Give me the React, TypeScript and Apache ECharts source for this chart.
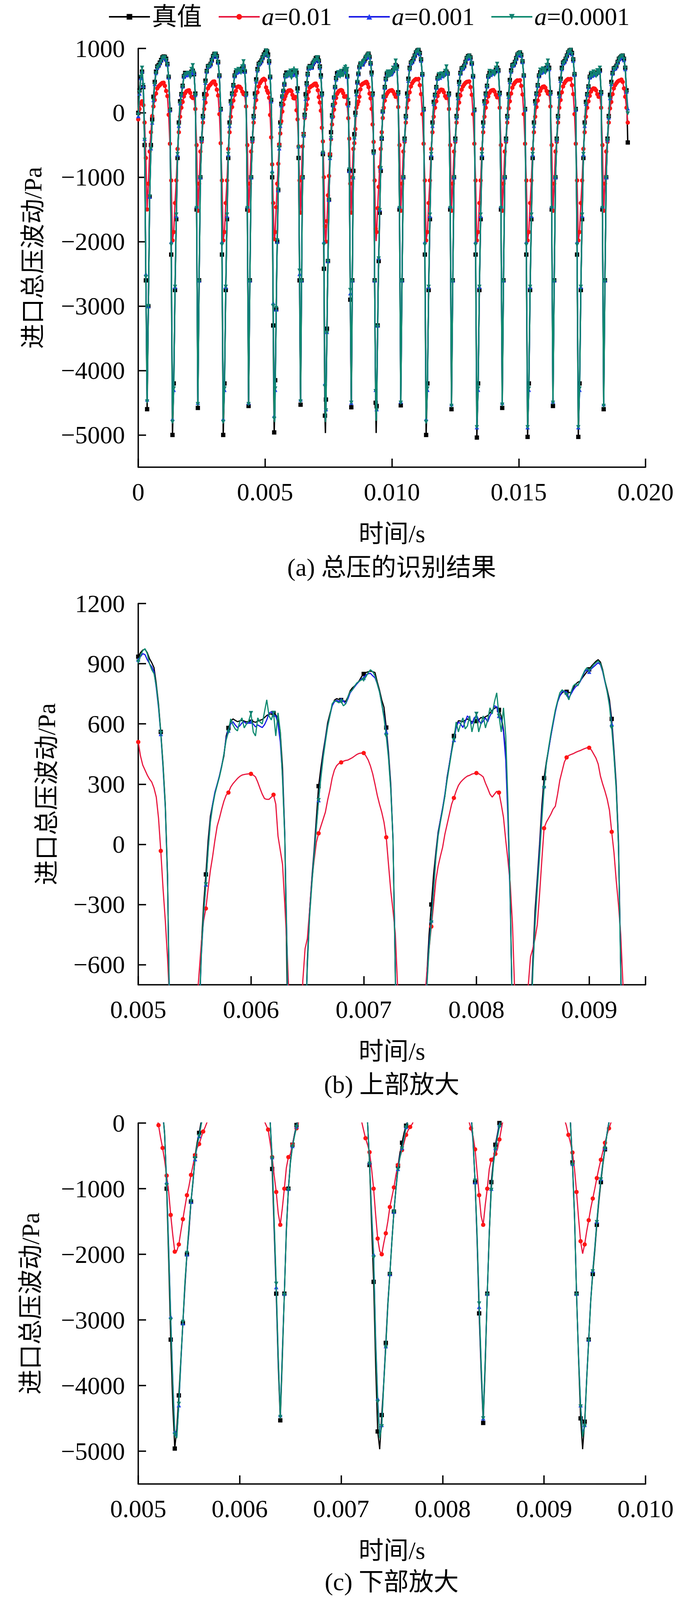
import React, { useEffect, useRef } from "react";
import * as echarts from "echarts";

// ---------------- data ----------------
const SERIES_NAMES = ["真值", "a=0.01", "a=0.001", "a=0.0001"];
const CAPTIONS = ["(a) 总压的识别结果", "(b) 上部放大", "(c) 下部放大"];
const X_TICKS_A = [0, 0.005, 0.01, 0.015, 0.02];
const Y_TICKS_A = [-5000, -4000, -3000, -2000, -1000, 0, 1000];
const X_LABELS_B = [0.005, 0.006, 0.007, 0.008, 0.009];
const X_TICKS_B = [0.005, 0.006, 0.007, 0.008, 0.009, 0.0095];
const Y_TICKS_B = [-600, -300, 0, 300, 600, 900, 1200];
const X_TICKS_C = [0.005, 0.006, 0.007, 0.008, 0.009, 0.01];
const Y_TICKS_C = [-5000, -4000, -3000, -2000, -1000, 0];

// time sampling: [start (s), step (s), count]
const TIME_SEGMENTS: [number, number, number][] = [
  [0, 0.00005, 100],
  [0.005, 0.00002, 250],
  [0.01, 0.00005, 187],
];

// 真值 (truth)
const TRUTH = [
  // 0-1 ms
  0, 350, 560, 640, 400, -500, -2600, -4600, -3000, -1300, -500, -100, 250, 480, 640, 720, 740, 780, 820, 860,
  // 1-2 ms
  875, 870, 840, 760, 560, 50, -2200, -5000, -4200, -2750, -1650, -700, -150, 180, 290, 420, 570, 620, 615, 618,
  // 2-3 ms
  612, 618, 640, 654, 600, 300, -1500, -4580, -2600, -1000, -400, -50, 290, 500, 650, 725, 730, 760, 820, 880,
  // 3-4 ms
  915, 918, 880, 790, 580, 60, -2200, -5000, -4200, -2750, -1650, -700, -150, 180, 300, 430, 580, 630, 640, 645,
  // 4-5 ms
  650, 660, 690, 720, 640, 300, -1500, -4550, -2600, -1000, -400, -50, 300, 520, 680, 760, 780, 810, 860, 905,
  // 5-6 ms (20 us)
  935, 955, 968, 972, 955, 925, 905, 880, 800, 700,
  560, 400, 200, -150, -1000, -2100, -3300, -4300, -4960, -4650,
  -4150, -3600, -3050, -2500, -2000, -1650, -1200, -900, -500, -300,
  -150, 20, 140, 200, 255, 295, 340, 390, 440, 540,
  580, 612, 625, 618, 611, 615, 618, 614, 610, 612,
  // 6-7 ms
  611, 612, 608, 614, 618, 622, 632, 642, 648, 650,
  654, 645, 625, 560, 380, 50, -700, -1650, -2600, -3700,
  -4530, -3600, -2600, -1650, -1000, -580, -330, -170, -30, 130,
  290, 380, 460, 530, 605, 650, 690, 718, 726, 722,
  719, 715, 712, 735, 765, 780, 790, 800, 815, 835,
  // 7-8 ms
  849, 856, 860, 863, 860, 856, 810, 769, 720, 683,
  582, 460, 300, 20, -640, -1560, -2420, -3700, -4700, -4970,
  -4450, -3950, -3350, -2750, -2300, -1800, -1350, -1000, -650, -450,
  -300, -150, -40, 60, 120, 180, 240, 335, 400, 470,
  540, 590, 616, 614, 611, 618, 625, 618, 611, 612,
  // 8-9 ms
  614, 620, 632, 628, 636, 641, 655, 668, 678, 683,
  670, 640, 570, 450, 150, -250, -900, -1800, -2900, -3800,
  -4570, -3700, -2600, -1700, -900, -580, -330, -170, 0, 190,
  330, 410, 475, 540, 605, 665, 710, 740, 755, 762,
  760, 757, 755, 780, 798, 808, 813, 830, 845, 860,
  // 9-10 ms
  872, 888, 900, 912, 920, 908, 870, 815, 770, 720,
  625, 470, 300, 20, -600, -1400, -2600, -3600, -4500, -4970,
  -4550, -3900, -3300, -2700, -2300, -1950, -1550, -1200, -900, -630,
  -400, -170, 20, 160, 250, 330, 400, 460, 530, 580,
  605, 612, 620, 615, 618, 625, 622, 618, 612, 610,
  // 10-11 ms (50 us)
  640, 660, 700, 740, 720, 320, -1500, -4540, -2600, -1000, -400, -50, 300, 530, 700, 780, 800, 840, 890, 940,
  // 11-12 ms
  965, 978, 930, 830, 600, 60, -2200, -5000, -4200, -2750, -1650, -700, -150, 170, 280, 400, 540, 580, 575, 585,
  // 12-13 ms
  590, 600, 620, 640, 610, 300, -1500, -4600, -2600, -1000, -400, -50, 280, 480, 620, 690, 700, 730, 790, 850,
  // 13-14 ms
  880, 890, 860, 770, 570, 50, -2200, -5040, -4200, -2750, -1650, -700, -150, 180, 300, 420, 570, 620, 615, 625,
  // 14-15 ms
  625, 640, 670, 700, 660, 310, -1500, -4580, -2600, -1000, -400, -50, 290, 510, 660, 740, 750, 790, 850, 905,
  // 15-16 ms
  925, 939, 900, 800, 580, 60, -2200, -5030, -4200, -2750, -1650, -700, -150, 180, 300, 430, 580, 630, 640, 650,
  // 16-17 ms
  655, 670, 700, 740, 700, 320, -1500, -4550, -2600, -1000, -400, -50, 300, 530, 700, 780, 800, 840, 890, 940,
  // 17-18 ms
  965, 978, 930, 830, 600, 60, -2200, -5030, -4200, -2750, -1650, -700, -150, 170, 290, 410, 560, 600, 600, 605,
  // 18-19 ms
  600, 610, 625, 650, 660, 320, -1500, -4600, -2600, -1000, -400, -50, 280, 480, 620, 690, 700, 730, 790, 840,
  // 19-19.3 ms
  860, 880, 890, 840, 700, 350, -460,
];

// a = 0.01
const A_001 = [
  -100, 60, 150, 180, 120, -150, -700, -1500, -1100, -600, -300, -50, 100, 200, 300, 380, 410, 430, 450, 465,
  468, 420, 340, 260, -30, -480, -1050, -1980, -1850, -1400, -1050, -560, -300, -60, 80, 170, 255, 305, 335, 345,
  351, 310, 250, 230, 240, 60, -500, -1520, -1100, -600, -450, -150, 60, 160, 280, 380, 420, 440, 465, 485,
  488, 440, 360, 270, -20, -470, -1050, -1980, -1850, -1400, -1050, -560, -300, -60, 90, 190, 280, 340, 400, 410,
  405, 380, 330, 290, 280, 100, -500, -1520, -1100, -600, -450, -150, 80, 200, 320, 410, 460, 490, 515, 528,
  // 5-6 ms
  510, 440, 395, 370, 345, 325, 310, 280, 235, 130,
  -33, -220, -380, -570, -800, -1050, -1400, -1700, -1960, -1950,
  -1850, -1650, -1465, -1280, -1100, -960, -790, -640, -490, -380,
  -320, -220, -130, -60, 20, 90, 130, 175, 215, 245,
  258, 285, 302, 315, 328, 338, 345, 348, 350, 351,
  // 6-7 ms
  351, 345, 336, 310, 279, 250, 228, 224, 224, 235,
  247, 200, 40, -30, -100, -300, -520, -800, -1050, -1380,
  -1550, -1300, -1000, -680, -520, -470, -330, -180, -80, 10,
  55, 90, 125, 160, 220, 270, 330, 370, 392, 403,
  408, 414, 418, 420, 426, 432, 440, 448, 453, 455,
  // 7-8 ms
  455, 440, 420, 390, 351, 300, 245, 200, 160, 110,
  35, -100, -231, -330, -443, -700, -1000, -1400, -1760, -1950,
  -2000, -1830, -1680, -1500, -1280, -1130, -980, -790, -640, -520,
  -410, -300, -180, -110, -60, -15, 50, 100, 150, 200,
  231, 265, 293, 310, 322, 332, 340, 344, 350, 353,
  // 8-9 ms
  355, 352, 345, 336, 305, 279, 250, 235, 250, 264,
  258, 200, 134, 20, -82, -200, -400, -750, -1100, -1420,
  -1550, -1250, -1000, -700, -560, -520, -470, -400, -250, -80,
  80, 110, 130, 150, 175, 190, 250, 320, 365, 410,
  433, 443, 448, 452, 458, 463, 467, 472, 477, 481,
  // 9-10 ms
  481, 470, 450, 430, 400, 340, 300, 265, 225, 170,
  62, -40, -180, -300, -450, -700, -1050, -1450, -1800, -1990,
  -1850, -1650, -1480, -1300, -1150, -1000, -840, -690, -560, -430,
  -300, -180, -80, 10, 80, 140, 190, 230, 256, 270,
  290, 305, 318, 328, 335, 340, 345, 347, 348, 350,
  // 10-19.3 ms
  352, 330, 290, 250, 255, 90, -500, -1520, -1100, -600, -450, -150, 80, 200, 320, 410, 460, 490, 510, 525,
  520, 527, 430, 290, -20, -480, -1050, -1980, -1850, -1400, -1050, -560, -300, -60, 80, 180, 260, 320, 350, 361,
  355, 320, 260, 230, 240, 60, -500, -1520, -1100, -600, -450, -150, 60, 160, 270, 360, 410, 440, 465, 480,
  485, 488, 400, 280, -20, -480, -1050, -1980, -1850, -1400, -1050, -560, -300, -60, 80, 170, 255, 310, 340, 351,
  355, 330, 280, 240, 250, 80, -500, -1520, -1100, -600, -450, -150, 70, 180, 300, 390, 440, 470, 490, 505,
  500, 508, 420, 285, -20, -480, -1050, -1980, -1850, -1400, -1050, -560, -300, -60, 90, 190, 280, 340, 385, 405,
  410, 390, 340, 300, 290, 100, -500, -1520, -1100, -600, -450, -150, 80, 200, 320, 410, 460, 490, 510, 525,
  520, 527, 430, 290, -20, -480, -1050, -1980, -1850, -1400, -1050, -560, -300, -60, 80, 180, 265, 330, 365, 380,
  375, 350, 290, 250, 255, 80, -500, -1520, -1100, -600, -450, -150, 70, 170, 290, 380, 430, 460, 485, 500,
  505, 517, 480, 380, 250, 80, -150,
];

// a = 0.001
const A_0001 = [
  -50, 300, 540, 650, 420, -400, -2500, -4450, -3000, -1300, -550, -150, 200, 450, 620, 700, 730, 770, 810, 850,
  860, 855, 825, 750, 550, 40, -2000, -4750, -4300, -2700, -1600, -650, -200, 150, 280, 410, 560, 610, 585, 605,
  605, 590, 620, 650, 620, 280, -1450, -4500, -2600, -1000, -420, -70, 230, 470, 640, 715, 725, 750, 810, 870,
  900, 905, 870, 780, 570, 50, -2000, -4750, -4300, -2700, -1600, -650, -200, 150, 290, 420, 570, 620, 630, 650,
  640, 650, 700, 760, 640, 280, -1450, -4500, -2600, -1000, -420, -70, 250, 490, 660, 750, 770, 800, 850, 895,
  // 5-6 ms
  920, 935, 950, 945, 920, 900, 885, 860, 780, 680,
  550, 380, 180, -180, -900, -1900, -2950, -3900, -4700, -4780,
  -4300, -3650, -3050, -2450, -2000, -1600, -1200, -880, -550, -350,
  -200, -20, 120, 200, 260, 300, 340, 390, 450, 530,
  567, 600, 611, 595, 582, 590, 605, 611, 600, 605,
  // 6-7 ms
  611, 600, 585, 595, 588, 582, 596, 620, 654, 660,
  645, 640, 600, 510, 340, 40, -520, -1550, -2500, -3600,
  -4450, -3500, -2600, -1600, -1000, -600, -350, -190, -50, 90,
  220, 340, 440, 520, 590, 640, 690, 710, 718, 712,
  720, 716, 700, 725, 755, 770, 785, 800, 812, 825,
  // 7-8 ms
  830, 845, 850, 852, 840, 830, 800, 760, 700, 640,
  560, 440, 280, 30, -600, -1350, -2000, -3300, -4200, -4780,
  -4600, -3950, -3400, -2780, -2300, -1800, -1350, -1000, -700, -500,
  -380, -220, -60, 50, 120, 180, 250, 330, 400, 470,
  520, 580, 610, 600, 582, 611, 640, 625, 600, 630,
  // 8-9 ms
  640, 620, 600, 615, 630, 610, 640, 660, 690, 685,
  640, 620, 560, 420, 120, -300, -900, -1750, -2800, -3700,
  -4500, -3600, -2600, -1650, -1000, -620, -380, -200, -30, 150,
  290, 400, 470, 540, 600, 660, 710, 740, 760, 765,
  755, 730, 750, 770, 785, 795, 810, 835, 860, 870,
  // 9-10 ms
  860, 875, 885, 895, 905, 895, 860, 810, 760, 700,
  600, 450, 280, 0, -620, -1420, -2600, -3550, -4300, -4750,
  -4600, -3900, -3300, -2700, -2250, -1900, -1500, -1150, -850, -600,
  -380, -160, 20, 160, 250, 320, 390, 450, 520, 570,
  600, 590, 615, 600, 590, 610, 625, 605, 600, 615,
  // 10-19.3 ms
  620, 650, 720, 770, 690, 300, -1450, -4480, -2600, -1000, -420, -70, 260, 500, 680, 770, 790, 830, 880, 930,
  950, 960, 910, 810, 590, 50, -2000, -4750, -4300, -2700, -1600, -650, -200, 140, 270, 390, 530, 560, 545, 570,
  580, 590, 610, 650, 620, 280, -1450, -4520, -2600, -1000, -420, -70, 230, 450, 610, 680, 690, 720, 780, 840,
  860, 875, 845, 760, 560, 40, -2000, -4880, -4300, -2700, -1600, -650, -200, 150, 280, 410, 560, 610, 590, 610,
  610, 630, 680, 720, 650, 290, -1450, -4500, -2600, -1000, -420, -70, 250, 480, 640, 730, 740, 780, 840, 895,
  910, 925, 885, 790, 575, 50, -2000, -4880, -4300, -2700, -1600, -650, -200, 150, 290, 420, 570, 620, 625, 650,
  640, 660, 720, 770, 680, 300, -1450, -4480, -2600, -1000, -420, -70, 260, 500, 680, 770, 790, 830, 880, 930,
  950, 960, 910, 810, 590, 50, -2000, -4880, -4300, -2700, -1600, -650, -200, 140, 280, 400, 550, 590, 575, 595,
  590, 600, 630, 660, 650, 300, -1450, -4520, -2600, -1000, -420, -70, 230, 450, 610, 680, 690, 720, 780, 830,
  850, 870, 875, 820, 680, 330, 70,
];

// a = 0.0001
const A_00001 = [
  -30, 320, 560, 700, 430, -420, -2550, -4480, -3000, -1300, -560, -160, 190, 440, 610, 700, 720, 760, 800, 845,
  865, 860, 820, 745, 555, 30, -2050, -4800, -4280, -2700, -1580, -640, -200, 140, 270, 400, 560, 600, 600, 620,
  620, 550, 680, 740, 620, 270, -1480, -4520, -2620, -1010, -430, -80, 220, 460, 630, 715, 720, 750, 810, 870,
  905, 920, 870, 780, 570, 40, -2050, -4800, -4280, -2700, -1580, -640, -200, 140, 280, 410, 570, 660, 630, 680,
  660, 620, 720, 800, 650, 270, -1480, -4520, -2620, -1010, -430, -80, 240, 480, 650, 745, 760, 800, 850, 890,
  // 5-6 ms
  910, 940, 965, 975, 950, 900, 870, 850, 790, 690,
  555, 390, 190, -170, -950, -1950, -3000, -3950, -4750, -4800,
  -4280, -3620, -3030, -2430, -1980, -1580, -1190, -870, -540, -340,
  -200, -30, 110, 190, 250, 295, 335, 385, 450, 520,
  560, 625, 595, 575, 565, 610, 630, 580, 600, 615,
  // 6-7 ms
  654, 560, 540, 630, 610, 600, 660, 720, 640, 620,
  655, 540, 655, 560, 320, 30, -540, -1500, -2450, -3550,
  -4480, -3520, -2620, -1620, -1020, -610, -360, -200, -60, 80,
  220, 330, 430, 510, 585, 640, 700, 715, 712, 705,
  712, 690, 700, 735, 760, 770, 790, 805, 812, 820,
  // 7-8 ms
  820, 835, 855, 870, 860, 840, 800, 760, 700, 630,
  540, 430, 270, 20, -620, -1400, -2050, -3350, -4250, -4800,
  -4620, -3970, -3420, -2790, -2310, -1810, -1360, -1010, -710, -520,
  -390, -230, -70, 40, 110, 170, 240, 320, 390, 460,
  520, 610, 560, 600, 630, 575, 590, 640, 560, 610,
  // 8-9 ms
  650, 560, 600, 640, 580, 620, 680, 650, 710, 755,
  640, 560, 680, 540, 200, -280, -880, -1700, -2750, -3650,
  -4500, -3620, -2620, -1670, -1020, -640, -400, -220, -60, 120,
  280, 400, 480, 550, 610, 670, 715, 755, 770, 760,
  745, 720, 760, 790, 800, 790, 815, 840, 865, 880,
  // 9-10 ms
  865, 880, 895, 905, 915, 900, 865, 815, 760, 690,
  580, 440, 270, -10, -640, -1440, -2620, -3570, -4320, -4780,
  -4620, -3920, -3320, -2720, -2260, -1910, -1510, -1160, -860, -610,
  -390, -170, 10, 150, 240, 310, 380, 440, 510, 560,
  620, 560, 640, 600, 570, 650, 610, 560, 640, 600,
  // 10-19.3 ms
  610, 700, 660, 810, 680, 290, -1480, -4500, -2620, -1010, -430, -80, 250, 490, 670, 765, 785, 830, 880, 935,
  955, 975, 915, 815, 590, 40, -2050, -4800, -4280, -2700, -1580, -640, -200, 130, 260, 380, 530, 600, 540, 610,
  600, 560, 650, 720, 600, 270, -1480, -4550, -2620, -1010, -430, -80, 220, 440, 600, 680, 685, 720, 780, 840,
  865, 885, 850, 765, 565, 30, -2050, -4880, -4280, -2700, -1580, -640, -200, 140, 270, 400, 560, 650, 580, 640,
  640, 590, 700, 760, 640, 280, -1480, -4530, -2620, -1010, -430, -80, 240, 470, 630, 725, 735, 780, 840, 900,
  915, 935, 890, 790, 570, 40, -2050, -4880, -4280, -2700, -1580, -640, -200, 140, 280, 410, 570, 670, 620, 690,
  670, 620, 740, 810, 670, 290, -1480, -4500, -2620, -1010, -430, -80, 250, 490, 670, 765, 785, 830, 880, 935,
  955, 975, 915, 815, 590, 40, -2050, -4880, -4280, -2700, -1580, -640, -200, 130, 270, 390, 550, 620, 570, 640,
  610, 570, 660, 620, 700, 300, -1480, -4550, -2620, -1010, -430, -80, 220, 440, 600, 680, 685, 720, 780, 830,
  855, 880, 885, 830, 690, 320, -10,
];

// ---------------- styling ----------------
const FONT = '"Liberation Serif", "Times New Roman", "Noto Sans CJK SC", serif';
const FS = 64;
const REF_W = 1772;
const REF_H = 4231;

const SERIES_STYLE = [
  { line: "#000000", mark: "#000000", symbol: "rect", rotate: 0 },
  { line: "#e8173f", mark: "#ff1414", symbol: "circle", rotate: 0 },
  { line: "#1a1ae6", mark: "#1f3cf0", symbol: "triangle", rotate: 0 },
  { line: "#0f8a70", mark: "#118070", symbol: "triangle", rotate: 180 },
];

// layout in reference pixels (vertical values are scaled to the visible height)
const GRIDS = [
  { left: 354, top: 128, width: 1299, height: 1107 },
  { left: 354, top: 1596, width: 1299, height: 1008 },
  { left: 354, top: 2970, width: 1299, height: 954 },
];
const CAPTION_Y = [1500, 2867, 4182];
const Y_NAME_GAP = [238, 203, 244];
const LINE_W = [3.5, 3, 3];

const fmtY = (v: number) => (v < 0 ? "\u2212" + Math.abs(v) : String(v));
const fmtX = (v: number) => (Math.abs(v) < 1e-12 ? "0" : v.toFixed(3));

function buildTimes(): { t: number; fine: boolean }[] {
  const out: { t: number; fine: boolean }[] = [];
  for (const [start, step, n] of TIME_SEGMENTS) {
    for (let i = 0; i < n; i++) out.push({ t: Math.round((start + i * step) * 1e6) / 1e6, fine: step < 0.00003 });
  }
  return out;
}

// which samples carry a marker, per panel
function hasMarker(panel: number, us: number, fine: boolean): boolean {
  if (panel === 0) return fine ? us % 40 === 0 : true;
  if (panel === 1) return us % 200 === 0;
  return us % 40 === 0;
}

function xAxis(gridIndex: number, min: number, max: number, ticks: number[], labels: number[], ky: number) {
  return {
    type: "value",
    gridIndex,
    min,
    max,
    name: "时间/s",
    nameLocation: "middle",
    nameGap: Math.round(143 * ky),
    nameTextStyle: { color: "#000", fontSize: FS, fontFamily: FONT },
    axisLine: { show: true, onZero: false, lineStyle: { color: "#000", width: 3.5 } },
    axisTick: { show: true, inside: true, length: 22, customValues: ticks, lineStyle: { color: "#000", width: 3.5 } },
    axisLabel: { show: true, customValues: labels, margin: Math.round(32 * ky), color: "#000", fontSize: FS, fontFamily: FONT, formatter: fmtX },
    splitLine: { show: false },
  };
}

function yAxis(gridIndex: number, min: number, max: number, ticks: number[]) {
  return {
    type: "value",
    gridIndex,
    min,
    max,
    name: "进口总压波动/Pa",
    nameLocation: "middle",
    nameGap: Y_NAME_GAP[gridIndex],
    nameRotate: 90,
    nameTextStyle: { color: "#000", fontSize: FS, fontFamily: FONT },
    axisLine: { show: true, onZero: false, lineStyle: { color: "#000", width: 3.5 } },
    axisTick: { show: true, inside: true, length: 20, customValues: ticks, lineStyle: { color: "#000", width: 3.5 } },
    axisLabel: { show: true, customValues: ticks, margin: 34, color: "#000", fontSize: FS, fontFamily: FONT, formatter: fmtY },
    splitLine: { show: false },
  };
}

function buildOption(ky: number) {
  const times = buildTimes();
  const values = [TRUTH, A_001, A_0001, A_00001];
  const series: any[] = [];
  for (let g = 0; g < 3; g++) {
    for (let s = 0; s < 4; s++) {
      const st = SERIES_STYLE[s];
      const vals = values[s];
      const data: any[] = [];
      times.forEach(({ t, fine }, i) => {
        if (vals[i] === undefined) return;
        const us = Math.round(t * 1e6);
        const item: any = { value: [t, vals[i]] };
        if (!hasMarker(g, us, fine)) item.symbol = "none";
        data.push(item);
      });
      series.push({
        type: "line",
        name: SERIES_NAMES[s],
        xAxisIndex: g,
        yAxisIndex: g,
        data,
        symbol: st.symbol,
        symbolSize: 11,
        symbolRotate: st.rotate,
        showSymbol: true,
        clip: true,
        silent: true,
        lineStyle: { color: st.line, width: LINE_W[g] },
        itemStyle: { color: st.mark },
        z: 2 + s,
      });
    }
  }

  return {
    animation: false,
    backgroundColor: "#ffffff",
    textStyle: { fontFamily: FONT },
    legend: {
      data: SERIES_NAMES,
      left: 272,
      top: Math.round(6 * ky),
      itemWidth: 105,
      itemHeight: 18,
      itemGap: 41,
      selectedMode: false,
      lineStyle: { width: 4 },
      formatter: (name: string) => (name.startsWith("a=") ? "{i|a}" + name.slice(1) : name),
      textStyle: {
        color: "#000",
        fontSize: FS,
        fontFamily: FONT,
        rich: { i: { fontStyle: "italic", fontSize: FS, fontFamily: FONT, color: "#000" } },
      },
    },
    grid: GRIDS.map((g) => ({
      left: g.left,
      width: g.width,
      top: Math.round(g.top * ky),
      height: Math.round(g.height * ky),
      containLabel: false,
    })),
    xAxis: [
      xAxis(0, 0, 0.02, X_TICKS_A, X_TICKS_A, ky),
      xAxis(1, 0.005, 0.0095, X_TICKS_B, X_LABELS_B, ky),
      xAxis(2, 0.005, 0.01, X_TICKS_C, X_TICKS_C, ky),
    ],
    yAxis: [
      yAxis(0, -5500, 1000, Y_TICKS_A),
      yAxis(1, -700, 1200, Y_TICKS_B),
      yAxis(2, -5500, 0, Y_TICKS_C),
    ],
    graphic: CAPTIONS.map((text, i) => ({
      type: "text",
      x: 1003,
      y: Math.round(CAPTION_Y[i] * ky),
      style: {
        text,
        fontSize: FS,
        fontFamily: FONT,
        fill: "#000",
        align: "center",
        verticalAlign: "middle",
      },
    })),
    series,
  };
}

export default function App() {
  const ref = useRef<HTMLDivElement>(null);
  useEffect(() => {
    const el = ref.current;
    if (!el) return;
    // fit the figure into the visible page height (never taller than the reference)
    const vh = window.innerHeight && window.innerHeight > 1000 ? Math.min(window.innerHeight, REF_H) : REF_H;
    el.style.height = vh + "px";
    const ky = vh / REF_H;
    const chart = echarts.init(el, null, { renderer: "svg", width: REF_W, height: vh });
    chart.setOption(buildOption(ky) as any);
    return () => chart.dispose();
  }, []);
  return (
    <div
      ref={ref}
      style={{ position: "absolute", left: 0, top: 0, width: REF_W, height: REF_H, background: "#ffffff", overflow: "hidden" }}
    />
  );
}
